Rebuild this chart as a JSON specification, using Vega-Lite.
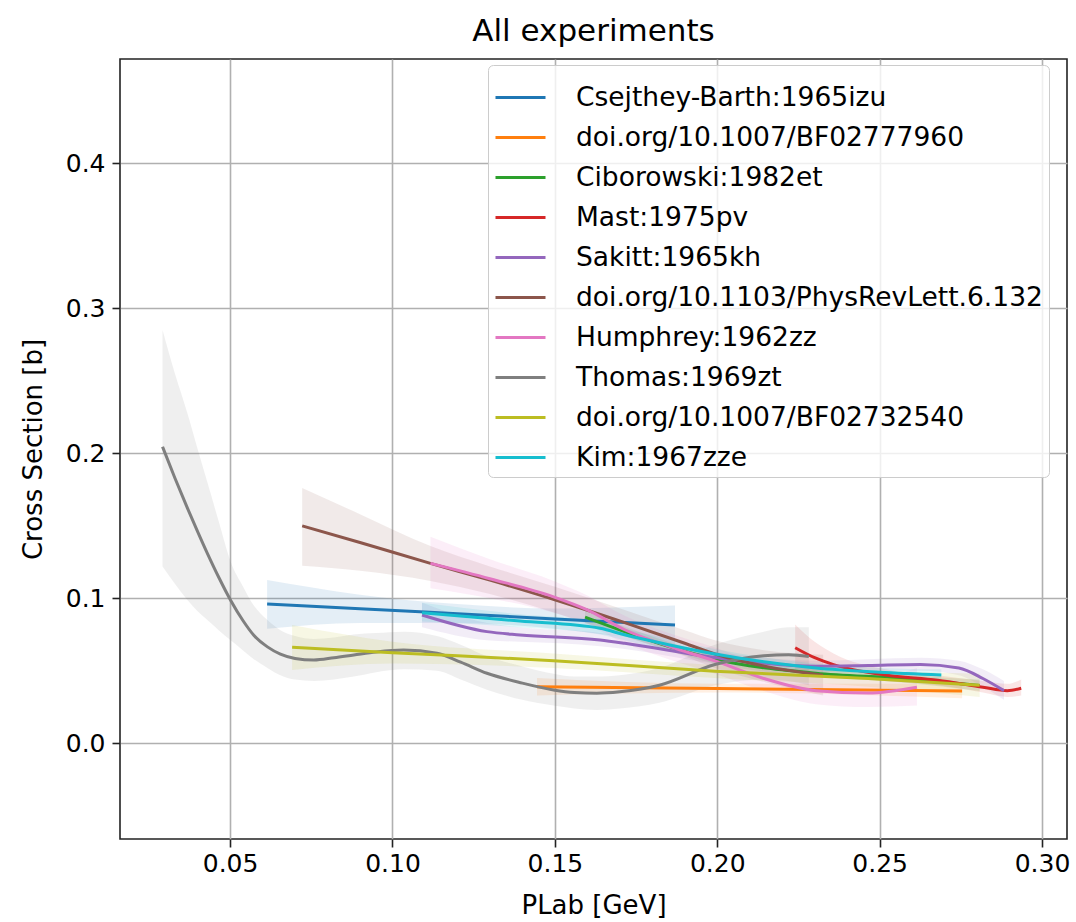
{
  "$schema": "https://vega.github.io/schema/vega-lite/v6.json",
  "autosize": {"type": "none"},
  "padding": {"left": 120, "top": 59, "right": 9, "bottom": 83},
  "width": 947,
  "height": 780,
  "background": "white",
  "title": {"text": "All experiments", "fontSize": 31, "font": "DejaVu Sans", "fontWeight": "normal", "color": "black", "anchor": "middle", "frame": "group", "baseline": "bottom", "offset": 13, "dy": 33},
  "config": {
    "font": "DejaVu Sans",
    "view": {"stroke": "#222222", "strokeWidth": 1.6},
    "axis": {"labelFont": "DejaVu Sans", "titleFont": "DejaVu Sans", "labelFontSize": 25, "titleFontSize": 26, "titleFontWeight": "normal", "labelColor": "black", "titleColor": "black", "gridColor": "#b0b0b0", "gridWidth": 1.6, "gridOpacity": 1, "tickColor": "#222222", "tickWidth": 1.6, "tickSize": 8, "domain": false},
    "legend": {"labelFont": "DejaVu Sans"}
  },
  "resolve": {"legend": {"color": "independent"}},
  "data": {"values": [
    {"s": "Csejthey-Barth:1965izu", "x": 0.0614, "y": 0.0961, "lo": 0.079, "hi": 0.1126},
    {"s": "Csejthey-Barth:1965izu", "x": 0.09, "y": 0.0928, "lo": 0.083, "hi": 0.1025},
    {"s": "Csejthey-Barth:1965izu", "x": 0.12, "y": 0.0893, "lo": 0.083, "hi": 0.096},
    {"s": "Csejthey-Barth:1965izu", "x": 0.15, "y": 0.0858, "lo": 0.079, "hi": 0.093},
    {"s": "Csejthey-Barth:1965izu", "x": 0.187, "y": 0.0815, "lo": 0.068, "hi": 0.095},

    {"s": "doi.org/10.1007/BF02777960", "x": 0.1445, "y": 0.039, "lo": 0.033, "hi": 0.045},
    {"s": "doi.org/10.1007/BF02777960", "x": 0.2, "y": 0.0378, "lo": 0.035, "hi": 0.041},
    {"s": "doi.org/10.1007/BF02777960", "x": 0.2754, "y": 0.036, "lo": 0.031, "hi": 0.041},

    {"s": "Ciborowski:1982et", "x": 0.1593, "y": 0.087, "lo": 0.083, "hi": 0.091},
    {"s": "Ciborowski:1982et", "x": 0.1822, "y": 0.0688, "lo": 0.066, "hi": 0.072},
    {"s": "Ciborowski:1982et", "x": 0.1993, "y": 0.0579, "lo": 0.055, "hi": 0.061},
    {"s": "Ciborowski:1982et", "x": 0.2304, "y": 0.0483, "lo": 0.046, "hi": 0.051},
    {"s": "Ciborowski:1982et", "x": 0.2572, "y": 0.0447, "lo": 0.042, "hi": 0.047},
    {"s": "Ciborowski:1982et", "x": 0.2808, "y": 0.0399, "lo": 0.036, "hi": 0.044},

    {"s": "Mast:1975pv", "x": 0.224, "y": 0.0659, "lo": 0.05, "hi": 0.082},
    {"s": "Mast:1975pv", "x": 0.23, "y": 0.059, "lo": 0.048, "hi": 0.07},
    {"s": "Mast:1975pv", "x": 0.2358, "y": 0.0543, "lo": 0.047, "hi": 0.062},
    {"s": "Mast:1975pv", "x": 0.2518, "y": 0.0471, "lo": 0.043, "hi": 0.051},
    {"s": "Mast:1975pv", "x": 0.2679, "y": 0.0435, "lo": 0.04, "hi": 0.047},
    {"s": "Mast:1975pv", "x": 0.2818, "y": 0.0387, "lo": 0.035, "hi": 0.043},
    {"s": "Mast:1975pv", "x": 0.2893, "y": 0.0363, "lo": 0.032, "hi": 0.041},
    {"s": "Mast:1975pv", "x": 0.2936, "y": 0.038, "lo": 0.033, "hi": 0.044},

    {"s": "Sakitt:1965kh", "x": 0.1091, "y": 0.0885, "lo": 0.08, "hi": 0.097},
    {"s": "Sakitt:1965kh", "x": 0.1291, "y": 0.077, "lo": 0.071, "hi": 0.083},
    {"s": "Sakitt:1965kh", "x": 0.1393, "y": 0.0747, "lo": 0.07, "hi": 0.08},
    {"s": "Sakitt:1965kh", "x": 0.1639, "y": 0.0712, "lo": 0.067, "hi": 0.076},
    {"s": "Sakitt:1965kh", "x": 0.1715, "y": 0.069, "lo": 0.065, "hi": 0.073},
    {"s": "Sakitt:1965kh", "x": 0.1993, "y": 0.0591, "lo": 0.055, "hi": 0.063},
    {"s": "Sakitt:1965kh", "x": 0.2304, "y": 0.0531, "lo": 0.049, "hi": 0.057},
    {"s": "Sakitt:1965kh", "x": 0.2465, "y": 0.0536, "lo": 0.05, "hi": 0.058},
    {"s": "Sakitt:1965kh", "x": 0.2626, "y": 0.0543, "lo": 0.05, "hi": 0.059},
    {"s": "Sakitt:1965kh", "x": 0.2744, "y": 0.0519, "lo": 0.047, "hi": 0.057},
    {"s": "Sakitt:1965kh", "x": 0.2818, "y": 0.0447, "lo": 0.039, "hi": 0.051},
    {"s": "Sakitt:1965kh", "x": 0.2883, "y": 0.0363, "lo": 0.03, "hi": 0.043},

    {"s": "doi.org/10.1103/PhysRevLett.6.132", "x": 0.0722, "y": 0.1499, "lo": 0.1225, "hi": 0.176},
    {"s": "doi.org/10.1103/PhysRevLett.6.132", "x": 0.09, "y": 0.1385, "lo": 0.119, "hi": 0.158},
    {"s": "doi.org/10.1103/PhysRevLett.6.132", "x": 0.1117, "y": 0.1241, "lo": 0.112, "hi": 0.136},
    {"s": "doi.org/10.1103/PhysRevLett.6.132", "x": 0.13, "y": 0.1125, "lo": 0.103, "hi": 0.122},
    {"s": "doi.org/10.1103/PhysRevLett.6.132", "x": 0.15, "y": 0.099, "lo": 0.09, "hi": 0.108},
    {"s": "doi.org/10.1103/PhysRevLett.6.132", "x": 0.1715, "y": 0.0832, "lo": 0.074, "hi": 0.092},
    {"s": "doi.org/10.1103/PhysRevLett.6.132", "x": 0.19, "y": 0.069, "lo": 0.06, "hi": 0.078},
    {"s": "doi.org/10.1103/PhysRevLett.6.132", "x": 0.1993, "y": 0.0616, "lo": 0.052, "hi": 0.071},
    {"s": "doi.org/10.1103/PhysRevLett.6.132", "x": 0.215, "y": 0.053, "lo": 0.042, "hi": 0.064},
    {"s": "doi.org/10.1103/PhysRevLett.6.132", "x": 0.2326, "y": 0.047, "lo": 0.033, "hi": 0.061},

    {"s": "Humphrey:1962zz", "x": 0.1117, "y": 0.1241, "lo": 0.107, "hi": 0.1425},
    {"s": "Humphrey:1962zz", "x": 0.13, "y": 0.1135, "lo": 0.1, "hi": 0.127},
    {"s": "Humphrey:1962zz", "x": 0.1496, "y": 0.101, "lo": 0.09, "hi": 0.112},
    {"s": "Humphrey:1962zz", "x": 0.16, "y": 0.092, "lo": 0.082, "hi": 0.102},
    {"s": "Humphrey:1962zz", "x": 0.1715, "y": 0.0783, "lo": 0.069, "hi": 0.088},
    {"s": "Humphrey:1962zz", "x": 0.185, "y": 0.067, "lo": 0.058, "hi": 0.076},
    {"s": "Humphrey:1962zz", "x": 0.1993, "y": 0.0568, "lo": 0.048, "hi": 0.066},
    {"s": "Humphrey:1962zz", "x": 0.2143, "y": 0.0447, "lo": 0.036, "hi": 0.054},
    {"s": "Humphrey:1962zz", "x": 0.2304, "y": 0.0363, "lo": 0.027, "hi": 0.046},
    {"s": "Humphrey:1962zz", "x": 0.2465, "y": 0.0347, "lo": 0.025, "hi": 0.045},
    {"s": "Humphrey:1962zz", "x": 0.2615, "y": 0.0387, "lo": 0.026, "hi": 0.052},

    {"s": "Thomas:1969zt", "x": 0.0292, "y": 0.2045, "lo": 0.122, "hi": 0.285},
    {"s": "Thomas:1969zt", "x": 0.033, "y": 0.183, "lo": 0.11, "hi": 0.255},
    {"s": "Thomas:1969zt", "x": 0.0368, "y": 0.1625, "lo": 0.099, "hi": 0.228},
    {"s": "Thomas:1969zt", "x": 0.04, "y": 0.146, "lo": 0.091, "hi": 0.203},
    {"s": "Thomas:1969zt", "x": 0.043, "y": 0.131, "lo": 0.085, "hi": 0.18},
    {"s": "Thomas:1969zt", "x": 0.0465, "y": 0.1145, "lo": 0.078, "hi": 0.153},
    {"s": "Thomas:1969zt", "x": 0.0502, "y": 0.0985, "lo": 0.071, "hi": 0.125},
    {"s": "Thomas:1969zt", "x": 0.054, "y": 0.0845, "lo": 0.064, "hi": 0.108},
    {"s": "Thomas:1969zt", "x": 0.0573, "y": 0.0745, "lo": 0.058, "hi": 0.095},
    {"s": "Thomas:1969zt", "x": 0.0615, "y": 0.0665, "lo": 0.052, "hi": 0.085},
    {"s": "Thomas:1969zt", "x": 0.0655, "y": 0.0615, "lo": 0.047, "hi": 0.078},
    {"s": "Thomas:1969zt", "x": 0.07, "y": 0.0585, "lo": 0.044, "hi": 0.074},
    {"s": "Thomas:1969zt", "x": 0.0758, "y": 0.0574, "lo": 0.043, "hi": 0.072},
    {"s": "Thomas:1969zt", "x": 0.082, "y": 0.059, "lo": 0.044, "hi": 0.073},
    {"s": "Thomas:1969zt", "x": 0.0881, "y": 0.0609, "lo": 0.046, "hi": 0.075},
    {"s": "Thomas:1969zt", "x": 0.095, "y": 0.063, "lo": 0.049, "hi": 0.076},
    {"s": "Thomas:1969zt", "x": 0.1034, "y": 0.0643, "lo": 0.051, "hi": 0.077},
    {"s": "Thomas:1969zt", "x": 0.1137, "y": 0.0621, "lo": 0.05, "hi": 0.074},
    {"s": "Thomas:1969zt", "x": 0.121, "y": 0.056, "lo": 0.044, "hi": 0.068},
    {"s": "Thomas:1969zt", "x": 0.1291, "y": 0.0483, "lo": 0.037, "hi": 0.06},
    {"s": "Thomas:1969zt", "x": 0.14, "y": 0.0415, "lo": 0.03, "hi": 0.053},
    {"s": "Thomas:1969zt", "x": 0.1496, "y": 0.0368, "lo": 0.026, "hi": 0.048},
    {"s": "Thomas:1969zt", "x": 0.156, "y": 0.035, "lo": 0.024, "hi": 0.046},
    {"s": "Thomas:1969zt", "x": 0.1629, "y": 0.0345, "lo": 0.023, "hi": 0.046},
    {"s": "Thomas:1969zt", "x": 0.17, "y": 0.0355, "lo": 0.024, "hi": 0.047},
    {"s": "Thomas:1969zt", "x": 0.1822, "y": 0.04, "lo": 0.028, "hi": 0.052},
    {"s": "Thomas:1969zt", "x": 0.1993, "y": 0.0543, "lo": 0.04, "hi": 0.068},
    {"s": "Thomas:1969zt", "x": 0.2143, "y": 0.0603, "lo": 0.044, "hi": 0.077},
    {"s": "Thomas:1969zt", "x": 0.222, "y": 0.061, "lo": 0.043, "hi": 0.08},
    {"s": "Thomas:1969zt", "x": 0.2282, "y": 0.0598, "lo": 0.04, "hi": 0.08},

    {"s": "doi.org/10.1007/BF02732540", "x": 0.0691, "y": 0.0662, "lo": 0.0506, "hi": 0.0816},
    {"s": "doi.org/10.1007/BF02732540", "x": 0.1, "y": 0.0625, "lo": 0.055, "hi": 0.07},
    {"s": "doi.org/10.1007/BF02732540", "x": 0.1496, "y": 0.057, "lo": 0.052, "hi": 0.062},
    {"s": "doi.org/10.1007/BF02732540", "x": 0.1993, "y": 0.0497, "lo": 0.045, "hi": 0.054},
    {"s": "doi.org/10.1007/BF02732540", "x": 0.2465, "y": 0.0447, "lo": 0.039, "hi": 0.05},
    {"s": "doi.org/10.1007/BF02732540", "x": 0.2808, "y": 0.04, "lo": 0.032, "hi": 0.048},

    {"s": "Kim:1967zze", "x": 0.1091, "y": 0.0901, "lo": 0.084, "hi": 0.097},
    {"s": "Kim:1967zze", "x": 0.1393, "y": 0.0843, "lo": 0.08, "hi": 0.089},
    {"s": "Kim:1967zze", "x": 0.1639, "y": 0.0793, "lo": 0.075, "hi": 0.084},
    {"s": "Kim:1967zze", "x": 0.1715, "y": 0.0748, "lo": 0.071, "hi": 0.079},
    {"s": "Kim:1967zze", "x": 0.185, "y": 0.068, "lo": 0.064, "hi": 0.072},
    {"s": "Kim:1967zze", "x": 0.1993, "y": 0.0616, "lo": 0.058, "hi": 0.065},
    {"s": "Kim:1967zze", "x": 0.215, "y": 0.056, "lo": 0.053, "hi": 0.059},
    {"s": "Kim:1967zze", "x": 0.2304, "y": 0.0519, "lo": 0.049, "hi": 0.055},
    {"s": "Kim:1967zze", "x": 0.25, "y": 0.049, "lo": 0.046, "hi": 0.052},
    {"s": "Kim:1967zze", "x": 0.269, "y": 0.0471, "lo": 0.043, "hi": 0.051}
  ]},
  "layer": [
    {
      "mark": {"type": "area", "interpolate": "monotone", "opacity": 0.12},
      "encoding": {
        "x": {"field": "x", "type": "quantitative", "scale": {"domain": [0.0161, 0.3077], "nice": false, "zero": false}, "axis": {"title": "PLab [GeV]", "values": [0.05, 0.1, 0.15, 0.2, 0.25, 0.3], "format": ".2f", "labelPadding": 4, "titlePadding": 16}},
        "y": {"field": "lo", "type": "quantitative", "scale": {"domain": [-0.066, 0.4719], "nice": false, "zero": false}, "axis": {"title": "Cross Section [b]", "values": [0, 0.1, 0.2, 0.3, 0.4], "format": ".1f", "labelPadding": 7, "titlePadding": 19}},
        "y2": {"field": "hi"},
        "color": {"field": "s", "type": "nominal", "legend": null, "scale": {"domain": ["Csejthey-Barth:1965izu", "doi.org/10.1007/BF02777960", "Ciborowski:1982et", "Mast:1975pv", "Sakitt:1965kh", "doi.org/10.1103/PhysRevLett.6.132", "Humphrey:1962zz", "Thomas:1969zt", "doi.org/10.1007/BF02732540", "Kim:1967zze"], "range": ["#1f77b4", "#ff7f0e", "#2ca02c", "#d62728", "#9467bd", "#8c564b", "#e377c2", "#7f7f7f", "#bcbd22", "#17becf"]}}
      }
    },
    {
      "mark": {"type": "line", "interpolate": "monotone", "strokeWidth": 3},
      "encoding": {
        "x": {"field": "x", "type": "quantitative"},
        "y": {"field": "y", "type": "quantitative"},
        "color": {"field": "s", "type": "nominal", "legend": {"orient": "none", "legendX": 368, "legendY": 6, "title": null, "symbolType": "stroke", "symbolSize": 2500, "symbolStrokeWidth": 3, "symbolOpacity": 1, "labelFontSize": 26.5, "labelColor": "black", "labelOffset": 29, "labelLimit": 700, "rowPadding": 0, "padding": 6, "fillColor": "rgba(255,255,255,0.8)", "strokeColor": "#cccccc", "cornerRadius": 5}}
      }
    }
  ]
}
